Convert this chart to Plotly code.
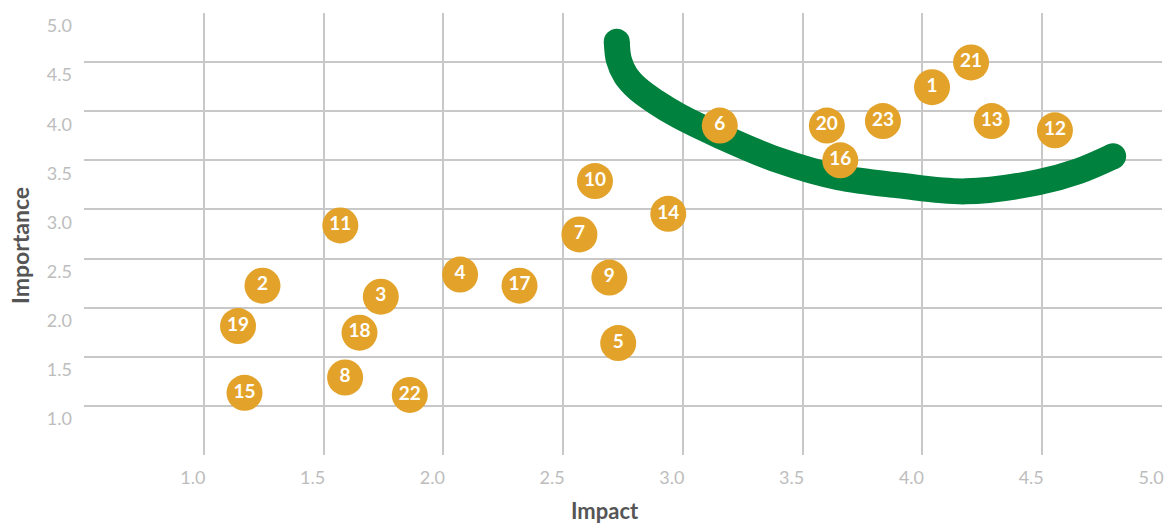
import plotly.graph_objects as go

# ---- data ----
ids = [1, 2, 3, 4, 5, 6, 7, 8, 9, 10, 11, 12, 13, 14, 15, 16, 17, 18, 19, 20, 21, 22, 23]
impact = [4.04, 1.245, 1.739, 2.07, 2.73, 3.154, 2.568, 1.59, 2.693, 2.633, 1.57, 4.553,
          4.289, 2.939, 1.17, 3.657, 2.318, 1.65, 1.143, 3.601, 4.203, 1.86, 3.835]
importance = [4.245, 2.224, 2.112, 2.337, 1.64, 3.854, 2.745, 1.289, 2.306, 3.289, 2.837, 3.806,
              3.90, 2.956, 1.133, 3.50, 2.224, 1.745, 1.813, 3.854, 4.497, 1.112, 3.90]

curve_x = [2.724, 2.733, 2.761, 2.810, 2.886, 2.983, 3.15, 3.40, 3.65, 3.90, 4.179, 4.483, 4.65, 4.796]
curve_y = [4.707, 4.520, 4.367, 4.232, 4.095, 3.952, 3.755, 3.50, 3.327, 3.245, 3.184, 3.276, 3.388, 3.541]

tick_vals = [1.0, 1.5, 2.0, 2.5, 3.0, 3.5, 4.0, 4.5, 5.0]
tick_text = ["1.0", "1.5", "2.0", "2.5", "3.0", "3.5", "4.0", "4.5", "5.0"]

GREEN = "#00813D"
ORANGE = "#E3A32A"
GRID = "#C8C8C8"
TICK = "#BDBDBD"
TITLE = "#555555"

fig = go.Figure()

fig.add_trace(go.Scatter(
    x=curve_x, y=curve_y, mode="lines",
    line=dict(color=GREEN, width=26, shape="spline", smoothing=1.0),
    hoverinfo="skip", showlegend=False,
))
# round caps at both ends
fig.add_trace(go.Scatter(
    x=[curve_x[0], curve_x[-1]], y=[curve_y[0], curve_y[-1]], mode="markers",
    marker=dict(color=GREEN, size=26, line=dict(width=0)),
    hoverinfo="skip", showlegend=False,
))

fig.add_trace(go.Scatter(
    x=impact, y=importance, mode="markers+text",
    text=[str(i) for i in ids], textposition="middle center",
    textfont=dict(family="Lato", size=19, color="white", weight="bold"),
    marker=dict(color=ORANGE, size=36, line=dict(width=0)),
    showlegend=False,
))

fig.update_layout(
    width=1165, height=525,
    margin=dict(l=84, r=3, t=13, b=70, autoexpand=False),
    paper_bgcolor="white", plot_bgcolor="white",
    font=dict(family="Lato"),
    xaxis=dict(
        range=[0.5, 5.0], tickvals=tick_vals, ticktext=tick_text,
        showgrid=True, gridcolor=GRID, gridwidth=1.5,
        zeroline=False, showline=False, ticks="",
        tickfont=dict(family="Lato", size=18, color=TICK),
        ticklabelshift=-11, ticklabelstandoff=10,
        automargin=False, fixedrange=True,
    ),
    yaxis=dict(
        range=[0.5, 5.0], tickvals=tick_vals, ticktext=tick_text,
        showgrid=True, gridcolor=GRID, gridwidth=1.5,
        zeroline=False, showline=False, ticks="",
        tickfont=dict(family="Lato", size=18, color=TICK),
        ticklabelshift=13, ticklabelstandoff=11,
        automargin=False, fixedrange=True,
    ),
    annotations=[
        dict(text="Impact", x=605, y=510, xref="paper", yref="paper", showarrow=False,
             font=dict(family="Lato", size=22, color=TITLE, weight="bold")),
        dict(text="Importance", x=20, y=246, xref="paper", yref="paper", showarrow=False,
             textangle=-90,
             font=dict(family="Lato", size=23, color=TITLE, weight="bold")),
    ],
)

# convert pixel positions of the axis titles into paper coordinates
pw = 1165 - 84 - 3
ph = 525 - 13 - 70
for ann in fig.layout.annotations:
    px, py = ann.x, ann.y
    ann.x = (px - 84) / pw
    ann.y = 1 - (py - 13) / ph
    ann.xanchor = "center"
    ann.yanchor = "middle"

fig.write_html("out.html", config={"displayModeBar": False})
